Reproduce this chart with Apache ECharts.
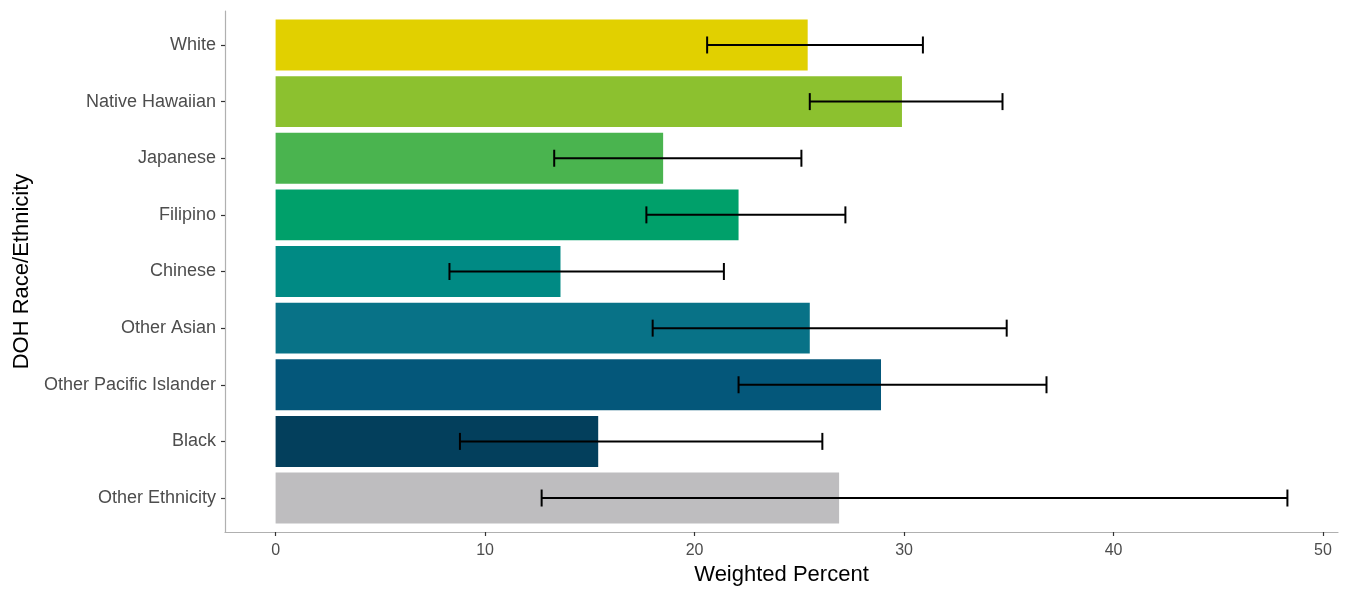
<!DOCTYPE html>
<html>
<head>
<meta charset="utf-8">
<title>Weighted Percent by DOH Race/Ethnicity</title>
<script src="https://cdn.jsdelivr.net/npm/echarts@6/dist/echarts.min.js"></script>
<style>
  html, body { margin: 0; padding: 0; background: #ffffff; }
  #chart { width: 1349px; height: 591px; }
</style>
</head>
<body>
<div id="chart"></div>
<script>
// Groups, listed top to bottom
const categories = ['White', 'Native Hawaiian', 'Japanese', 'Filipino', 'Chinese',
  'Other Asian', 'Other Pacific Islander', 'Black', 'Other Ethnicity'];
// Weighted percent and its confidence interval for each group
const percent = [25.4, 29.9, 18.5, 22.1, 13.6, 25.5, 28.9, 15.4, 26.9];
const ciLower = [20.6, 25.5, 13.3, 17.7, 8.3, 18.0, 22.1, 8.8, 12.7];
const ciUpper = [30.9, 34.7, 25.1, 27.2, 21.4, 34.9, 36.8, 26.1, 48.3];
// Tick values on the percent axis
const xTicks = [0, 10, 20, 30, 40, 50];

// Fill colour per group
const palette = ['#e1d000', '#8cc12f', '#4ab44f', '#00a06a', '#008a84',
  '#087287', '#04577a', '#033f5c', '#bebdbf'];

const FONT = '"Liberation Sans", Arial, sans-serif';
const BAR_WIDTH = 0.9;   // in category units
const CAP_WIDTH = 0.3;   // in category units

// Continuous axis padded by 5% of the data range on each side
const dataMax = Math.max(...ciUpper, ...percent);
const pad = dataMax * 0.05;
const yPositions = categories.map((_, i) => i + 1);

const barData = categories.map((_, i) => ({
  value: [percent[i], yPositions[i]],
  itemStyle: { color: palette[i] }
}));
const errData = categories.map((_, i) => [ciLower[i], ciUpper[i], yPositions[i]]);

const chart = echarts.init(document.getElementById('chart'), null, { renderer: 'canvas' });

chart.setOption({
  animation: false,
  backgroundColor: '#ffffff',
  grid: { left: 225, right: 11, top: 11, bottom: 59, containLabel: false },
  xAxis: {
    type: 'value',
    min: -pad,
    max: dataMax + pad,
    name: 'Weighted Percent',
    nameLocation: 'middle',
    nameGap: 31,
    nameTextStyle: { fontFamily: FONT, fontSize: 22, color: '#000000' },
    axisLine: { show: true, onZero: false, lineStyle: { color: '#b0b0b0', width: 1.2 } },
    axisTick: { show: true, customValues: xTicks, length: 4, lineStyle: { color: '#333333', width: 1.2 } },
    axisLabel: {
      customValues: xTicks,
      margin: 11,
      fontFamily: FONT, fontSize: 16, color: '#4d4d4d',
      formatter: v => String(v)
    },
    splitLine: { show: false }
  },
  yAxis: {
    type: 'value',
    min: 0.4,
    max: categories.length + 0.6,
    inverse: true,
    name: 'DOH Race/Ethnicity',
    nameLocation: 'middle',
    nameGap: 192,
    nameRotate: 90,
    nameTextStyle: { fontFamily: FONT, fontSize: 22, color: '#000000' },
    axisLine: { show: true, onZero: false, lineStyle: { color: '#b0b0b0', width: 1.2 } },
    axisTick: { show: true, customValues: yPositions, length: 4, lineStyle: { color: '#333333', width: 1.2 } },
    axisLabel: {
      customValues: yPositions,
      margin: 9,
      fontFamily: FONT, fontSize: 18, color: '#4d4d4d',
      formatter: v => categories[Math.round(v) - 1] || ''
    },
    splitLine: { show: false }
  },
  series: [
    {
      name: 'Weighted Percent',
      type: 'custom',
      data: barData,
      encode: { x: 0, y: 1 },
      renderItem: function (params, api) {
        const y = api.value(1);
        const start = api.coord([0, y]);
        const end = api.coord([api.value(0), y]);
        const h = api.size([0, BAR_WIDTH])[1];
        return {
          type: 'rect',
          shape: { x: start[0], y: start[1] - h / 2, width: end[0] - start[0], height: h },
          style: api.style()
        };
      }
    },
    {
      name: 'Confidence Interval',
      type: 'custom',
      data: errData,
      encode: { x: [0, 1], y: 2 },
      z: 5,
      renderItem: function (params, api) {
        const y = api.value(2);
        const lo = api.coord([api.value(0), y]);
        const hi = api.coord([api.value(1), y]);
        const half = api.size([0, CAP_WIDTH])[1] / 2;
        const style = { stroke: '#000000', lineWidth: 2, fill: null };
        return {
          type: 'group',
          children: [
            { type: 'line', shape: { x1: lo[0], y1: lo[1], x2: hi[0], y2: hi[1] }, style: style },
            { type: 'line', shape: { x1: lo[0], y1: lo[1] - half, x2: lo[0], y2: lo[1] + half }, style: style },
            { type: 'line', shape: { x1: hi[0], y1: hi[1] - half, x2: hi[0], y2: hi[1] + half }, style: style }
          ]
        };
      }
    }
  ]
});
</script>
</body>
</html>
